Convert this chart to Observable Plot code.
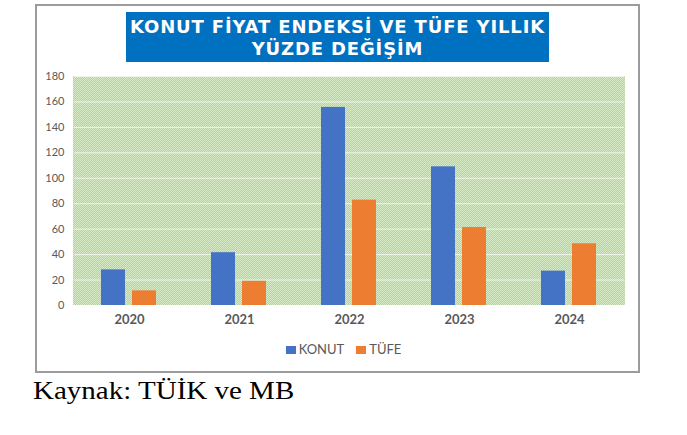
<!DOCTYPE html>
<html>
<head>
<meta charset="utf-8">
<script src="https://cdn.jsdelivr.net/npm/d3@7"></script>
<script src="https://cdn.jsdelivr.net/npm/@observablehq/plot@0.6"></script>
<style>
  html, body { margin: 0; padding: 0; background: #fff; }
  #wrap { position: relative; width: 687px; height: 435px; overflow: hidden; }
  #border { position: absolute; left: 35px; top: 4px; width: 601px; height: 365px; border: 2px solid #9c9c9c; box-sizing: content-box; }
  #title { position: absolute; left: 126px; top: 12px; width: 423px; height: 50px; background: #0070C0;
    color: #fff; font-family: "DejaVu Sans", Verdana, sans-serif; font-weight: bold; font-size: 18px; letter-spacing: 0.85px;
    line-height: 22.5px; text-align: center; display: flex; flex-direction: column; justify-content: center; padding-top: 2px; box-sizing: border-box; white-space: nowrap; }
  #chart { position: absolute; left: 37px; top: 66px; }
  #legend { position: absolute; left: 0; top: 341px; width: 687px; text-align: center; font-family: Lato, "Open Sans", sans-serif;
    font-size: 13px; color: #595959; }
  #legend span.item { display: inline-block; margin: 0 6px; }
  #legend span.sw { display: inline-block; width: 10px; height: 8px; margin-right: 3px; vertical-align: 0px; }
  #source { position: absolute; left: 33px; top: 377px; font-family: "Liberation Serif", "Times New Roman", serif; font-size: 25px; line-height: 28px; color: #000;
    transform: scaleX(1.16); transform-origin: left top; white-space: nowrap; }
</style>
</head>
<body>
<div id="wrap">
  <div id="border"></div>
  <div id="title"><div>KONUT FİYAT ENDEKSİ VE TÜFE YILLIK</div><div>YÜZDE DEĞİŞİM</div></div>
  <div id="chart"></div>
  <div id="legend"></div>
  <div id="source">Kaynak: TÜİK ve MB</div>
</div>
<script>
const years = ["2020", "2021", "2022", "2023", "2024"];
const series = ["KONUT", "TÜFE"];
const konut = [28, 41.5, 155.7, 109, 27];
const tufe = [11.5, 19, 82.8, 61.3, 48.5];
const yTicks = [0, 20, 40, 60, 80, 100, 120, 140, 160, 180];
const colors = ["#4472C4", "#ED7D31"];

const data = [];
years.forEach((y, i) => {
  data.push({year: y, series: series[0], value: konut[i]});
  data.push({year: y, series: series[1], value: tufe[i]});
});

const plot = Plot.plot({
  width: 600,
  height: 275,
  marginLeft: 36,
  marginRight: 12,
  marginTop: 10,
  marginBottom: 36,
  style: {background: "transparent", fontFamily: "Lato, 'Open Sans', sans-serif"},
  fx: {domain: years, padding: 0, label: null, tickSize: 0, tickPadding: 9},
  x: {domain: series, paddingInner: 0.22, paddingOuter: 0.87, axis: null},
  y: {domain: [0, 180], ticks: yTicks, tickSize: 0, tickPadding: 10, label: null},
  color: {domain: series, range: colors},
  marks: [
    Plot.ruleY(yTicks.slice(1), {stroke: "#f1f5ec", strokeWidth: 1}),
    Plot.barY(data, {fx: "year", x: "series", y: "value", fill: "series"})
  ]
});

document.getElementById("chart").appendChild(plot);

const svg = d3.select(plot);
const defs = svg.insert("defs", ":first-child");
const pat = defs.append("pattern").attr("id", "grn").attr("width", 2).attr("height", 2).attr("patternUnits", "userSpaceOnUse");
pat.append("rect").attr("width", 2).attr("height", 2).attr("fill", "#d6eac6");
pat.append("rect").attr("x", 0).attr("y", 0).attr("width", 1).attr("height", 1).attr("fill", "#b2d698");
pat.append("rect").attr("x", 1).attr("y", 1).attr("width", 1).attr("height", 1).attr("fill", "#b2d698");

// single continuous plot-area background, placed from the plot's own scales
const fxr = plot.scale("fx").range;
const yr = plot.scale("y").range;
svg.insert("rect", "defs + *")
  .attr("x", Math.min(fxr[0], fxr[1]))
  .attr("y", Math.min(yr[0], yr[1]))
  .attr("width", Math.abs(fxr[1] - fxr[0]))
  .attr("height", Math.abs(yr[0] - yr[1]))
  .attr("fill", "url(#grn)");

svg.selectAll('[aria-label="y-axis tick label"]').attr("fill", "#595959").attr("font-size", 11);
svg.selectAll('[aria-label="fx-axis tick label"]').attr("fill", "#595959").attr("font-size", 13).attr("font-weight", "bold");

const legend = d3.select("#legend");
series.forEach((s, i) => {
  const item = legend.append("span").attr("class", "item");
  item.append("span").attr("class", "sw").style("background", colors[i]);
  item.append("span").text(s);
});
</script>
</body>
</html>
